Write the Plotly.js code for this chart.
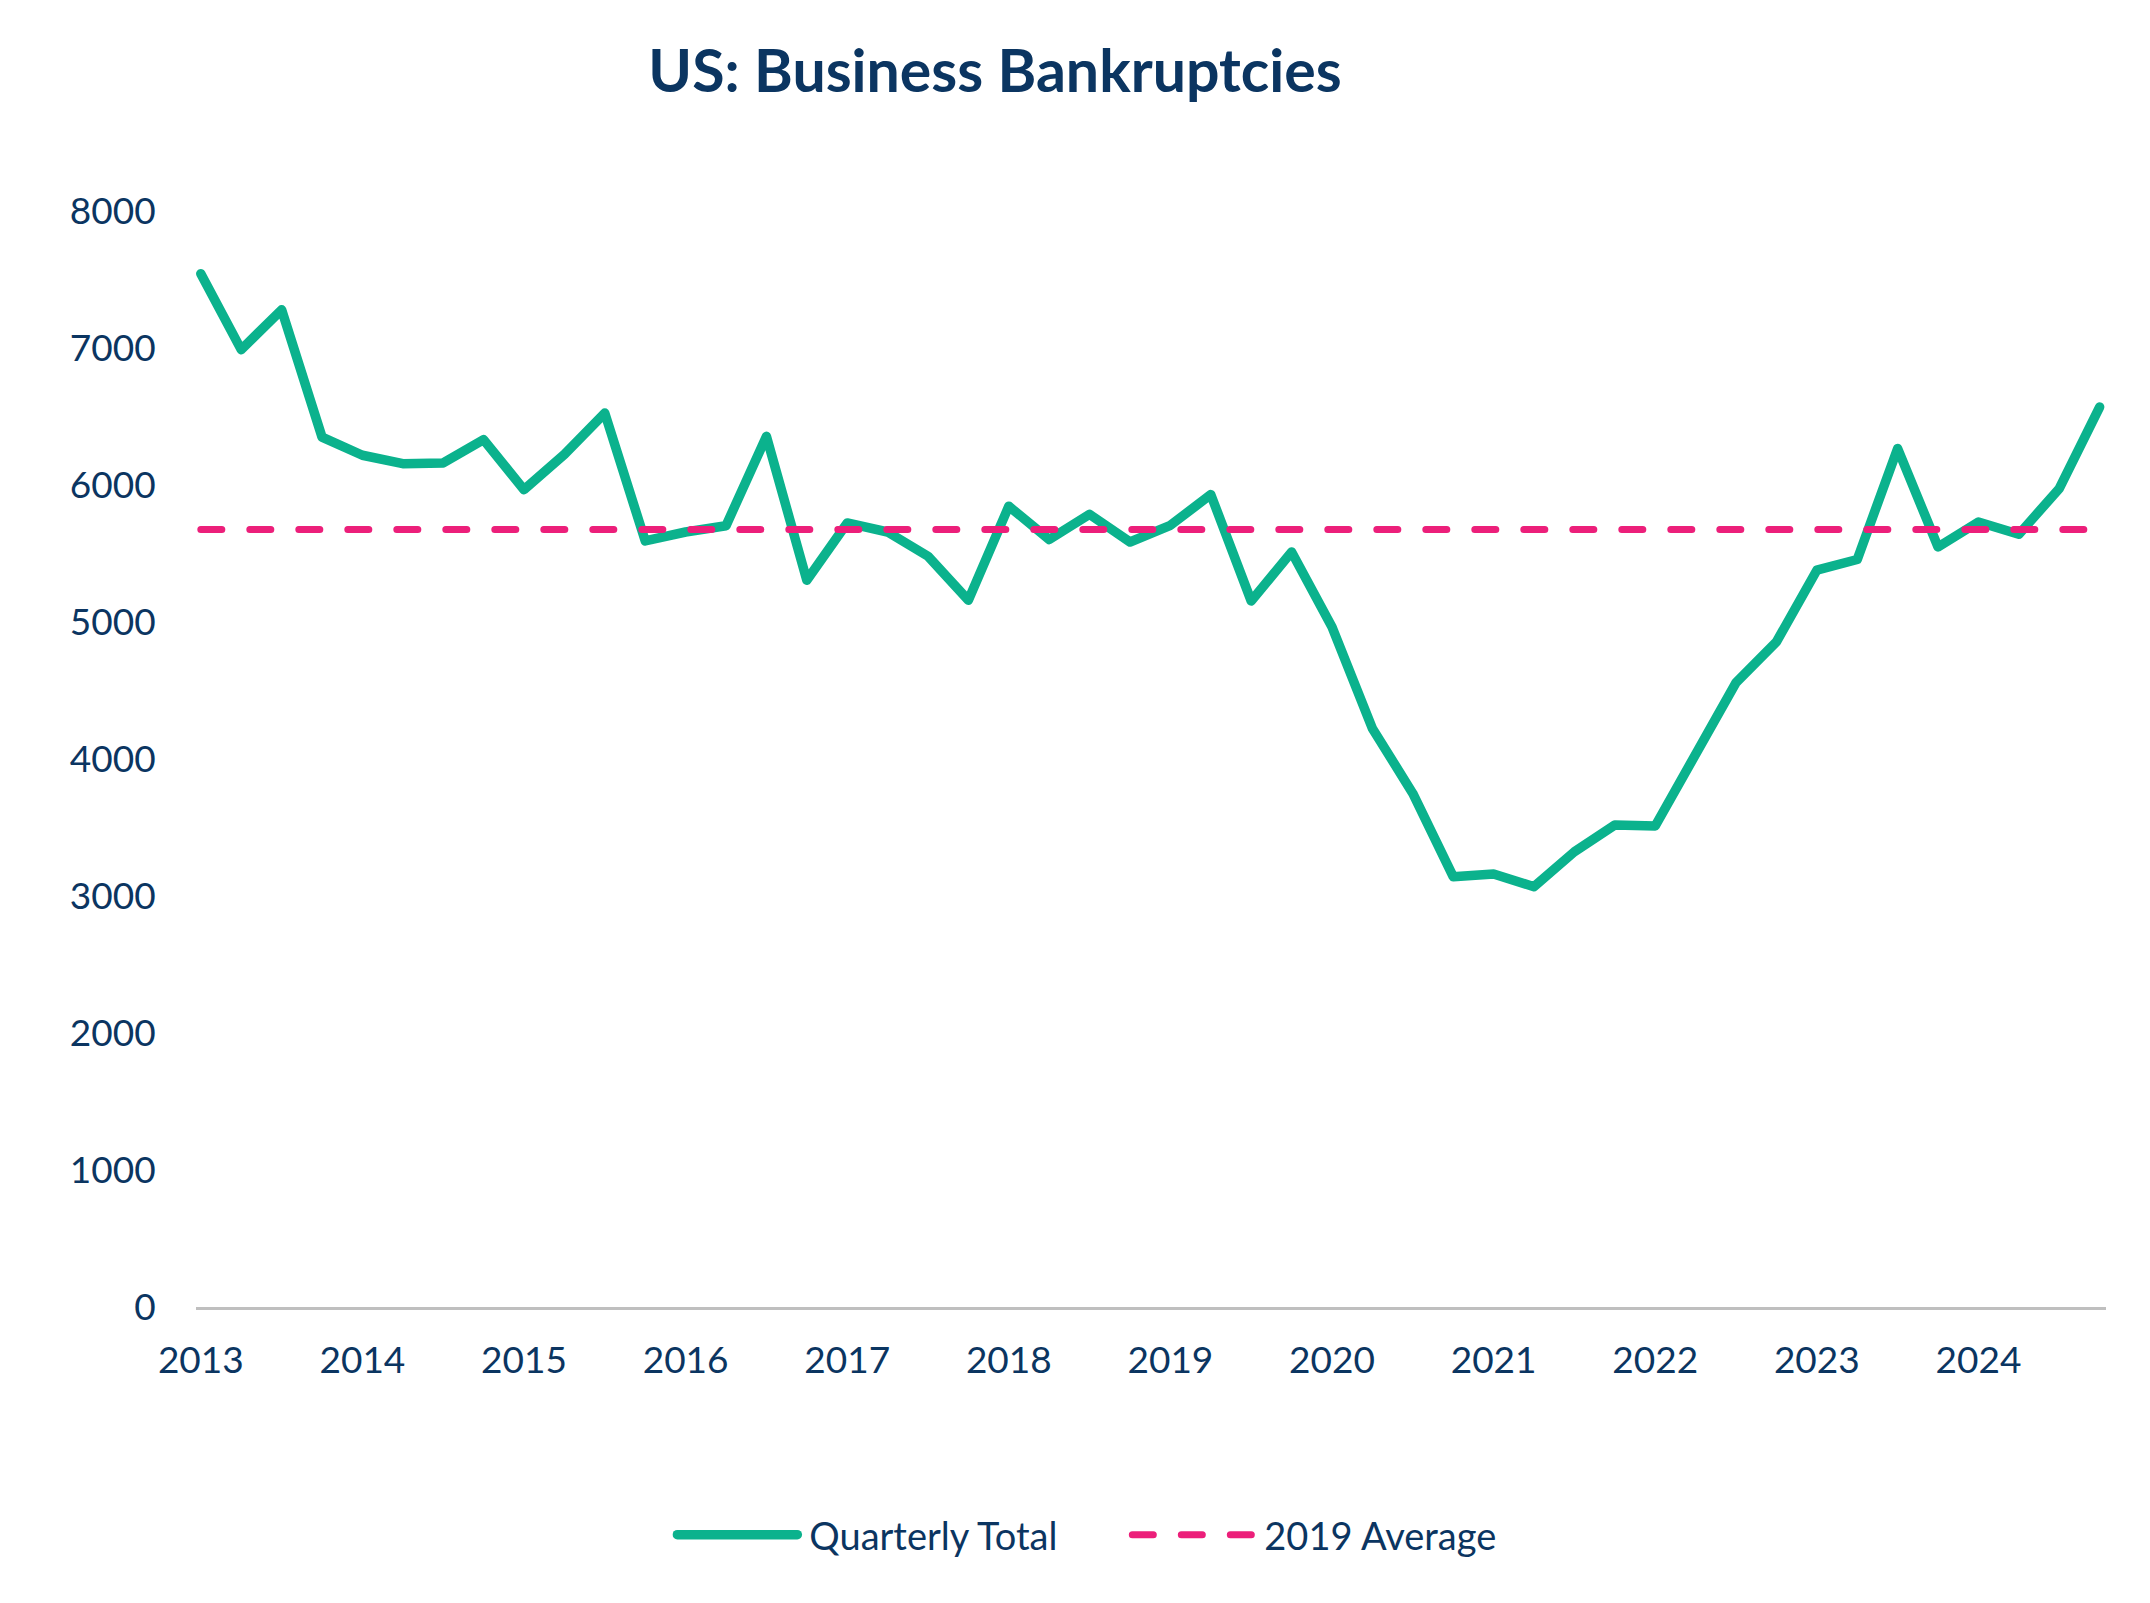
<!DOCTYPE html>
<html>
<head>
<meta charset="utf-8">
<script src="https://cdn.plot.ly/plotly-3.0.1.min.js"></script>
<style>
  html, body { margin: 0; padding: 0; background: #ffffff; }
  #chart { width: 2150px; height: 1603px; }
  #chart .js-line { stroke-linecap: round; stroke-linejoin: round; }
  #chart .legendtext { transform: translate(7px, 0px); }
</style>
</head>
<body>
<div id="chart"></div>
<script>
// ---- Data ----
const years = [2013, 2014, 2015, 2016, 2017, 2018, 2019, 2020, 2021, 2022, 2023, 2024];
const quarterNames = ["Q1", "Q2", "Q3", "Q4"];
const quarterlyTotal = [
  7542, 6988, 7279, 6350,   // 2013
  6217, 6156, 6161, 6331,   // 2014
  5966, 6224, 6525, 5592,   // 2015
  5657, 5703, 6355, 5305,   // 2016
  5723, 5657, 5480, 5159,   // 2017
  5845, 5602, 5786, 5584,   // 2018
  5706, 5930, 5153, 5511,   // 2019
  4964, 4223, 3749, 3141,   // 2020
  3160, 3068, 3323, 3518,   // 2021
  3511, 4050, 4557, 4855,   // 2022
  5378, 5456, 6266, 5548,   // 2023
  5730, 5640, 5974, 6569    // 2024
];
const average2019 = 5675;
const yTicks = [0, 1000, 2000, 3000, 4000, 5000, 6000, 7000, 8000];

// categories: one per quarter
const categories = [];
years.forEach(y => quarterNames.forEach(q => categories.push(y + " " + q)));
const yearTickVals = years.map(y => y + " Q1");
const yearTickText = years.map(y => String(y));
const averageSeries = categories.map(() => average2019);

const navy = "#0B3561";
const green = "#0BB28D";
const pink = "#EC1F7A";
const FONT = "Lato, 'Open Sans', sans-serif";

const traces = [
  {
    type: "scatter", mode: "lines", name: "Quarterly Total",
    x: categories, y: quarterlyTotal,
    line: { color: green, width: 9.5, shape: "linear" },
    hoverinfo: "x+y"
  },
  {
    type: "scatter", mode: "lines", name: "2019 Average",
    x: categories, y: averageSeries,
    line: { color: pink, width: 7, dash: "21px,28px" },
    hoverinfo: "y"
  }
];

const layout = {
  width: 2150, height: 1603,
  paper_bgcolor: "#ffffff", plot_bgcolor: "#ffffff",
  margin: { l: 196, r: 44, t: 211, b: 296, pad: 0 },
  font: { family: FONT, color: navy, size: 37 },
  title: {
    text: "<b>US: Business Bankruptcies</b>",
    font: { family: FONT, size: 59, color: navy },
    x: 995 / 2150, xref: "container", xanchor: "center",
    y: 1 - 71 / 1603, yref: "container", yanchor: "middle"
  },
  xaxis: {
    type: "category",
    categoryorder: "array", categoryarray: categories,
    range: [-0.119, 47.158],
    tickmode: "array", tickvals: yearTickVals, ticktext: yearTickText,
    showgrid: false, zeroline: false,
    showline: true, linecolor: "#BFBFBF", linewidth: 3,
    ticks: "outside", ticklen: 19, tickcolor: "rgba(0,0,0,0)",
    tickfont: { family: FONT, size: 37, color: navy },
    fixedrange: true
  },
  yaxis: {
    range: [0, 8000],
    tickmode: "array", tickvals: yTicks, ticktext: yTicks.map(String),
    showgrid: false, zeroline: false, showline: false,
    ticks: "outside", ticklen: 32, tickcolor: "rgba(0,0,0,0)",
    tickfont: { family: FONT, size: 37, color: navy },
    fixedrange: true
  },
  showlegend: true,
  legend: {
    orientation: "h",
    x: 0.4876, xanchor: "center",
    y: 1 - 1535 / 1603, yref: "container", yanchor: "middle",
    font: { family: FONT, size: 38, color: navy },
    itemwidth: 120,
    entrywidth: 320, entrywidthmode: "pixels",
    traceorder: "normal",
    bgcolor: "rgba(0,0,0,0)"
  }
};

Plotly.newPlot("chart", traces, layout, { displayModeBar: false, staticPlot: true });
</script>
</body>
</html>
